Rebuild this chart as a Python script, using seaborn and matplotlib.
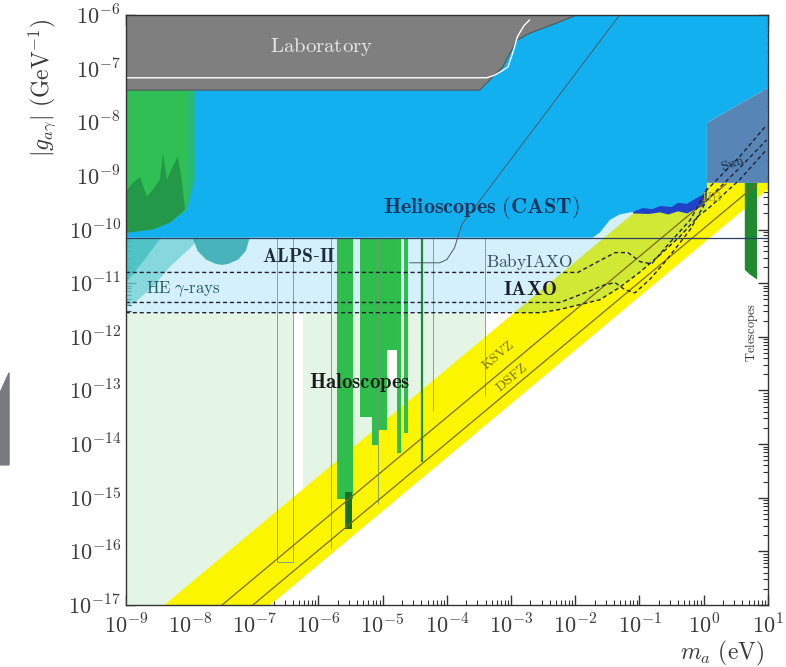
import numpy as np
import seaborn as sns
import matplotlib.pyplot as plt
from matplotlib.patches import Polygon
from matplotlib.ticker import LogLocator, NullFormatter

# every number below is log10(m_a / eV) or log10(|g| / GeV^-1)

# laboratory (gray) and ALPS-I line inside it
lab_logm = [-9, -1.98, -2.29, -2.71, -2.91, -3.13, -3.33, -3.49, -9]
lab_logg = [-6, -6, -6.15, -6.34, -6.47, -6.97, -7.21, -7.40, -7.40]
alps1_logm = [-9, -3.38, -3.27, -3.15, -3.05, -3.0, -2.96, -2.90, -2.80, -2.71]
alps1_logg = [-7.17, -7.17, -7.13, -7.05, -6.97, -6.80, -6.65, -6.40, -6.20, -6.09]

# helioscope (CAST) lower boundary
cast_logm = [-9, -1.73, -1.62, -1.46, -1.31, -1.10, -0.68, -0.26, -0.01, 0.05]
cast_logg = [-10.15, -10.15, -10.06, -9.82, -9.72, -9.67, -9.63, -9.60, -9.45, -9.32]
cast_top_logm = [0.05, 1.0, 1.0, -9]
cast_top_logg = [-8.01, -7.36, -6.0, -6.0]
noise_logm = [-1.10, -0.95, -0.80, -0.68, -0.50, -0.40, -0.26, -0.12, -0.01, 0.05,
              0.05, -0.01, -0.12, -0.26, -0.40, -0.55, -0.68, -0.85, -1.10]
noise_logg = [-9.67, -9.60, -9.62, -9.56, -9.58, -9.50, -9.52, -9.42, -9.35, -9.20,
              -9.40, -9.56, -9.62, -9.70, -9.66, -9.72, -9.68, -9.71, -9.70]

# Sun
sun_logm = [0.05, 1.0, 1.0, 0.05]
sun_logg = [-8.01, -7.36, -9.13, -9.13]

# low-mass green region with spiky dark part
lowg_logm = [-9, -7.93, -7.93, -8.05, -8.31, -8.58, -9]
lowg_logg = [-7.40, -7.40, -9.07, -9.63, -9.87, -10.0, -10.06]
spike_logm = [-9, -8.98, -8.89, -8.78, -8.67, -8.58, -8.47, -8.42, -8.36, -8.27, -8.19, -8.13,
              -8.08, -8.08, -8.31, -8.58, -9]
spike_logg = [-9.5, -9.26, -9.13, -9.02, -9.39, -9.26, -9.07, -8.57, -9.07, -8.83, -8.64, -9.07,
              -9.58, -9.63, -9.87, -10.0, -10.06]

# HE gamma-rays
he_logm = [-9, -7.85, -8.0, -8.31, -8.58, -8.85, -9]
he_logg = [-10.15, -10.15, -10.35, -10.69, -11.07, -11.35, -11.45]
he2_logm = [-9, -8.45, -8.7, -9]
he2_logg = [-10.15, -10.15, -10.55, -11.0]
blob_logm = [-7.96, -7.88, -7.75, -7.60, -7.50, -7.40, -7.25, -7.13, -7.07]
blob_logg = [-10.15, -10.40, -10.56, -10.64, -10.66, -10.64, -10.56, -10.40, -10.15]

# future haloscopes (pale green, ends under the lower edge of the band) and gaps
pale_logm = [-9, -3.41, -3.41, -6.75, -9]
pale_logg = [-11.55, -11.55, -13.66, -17, -17]
gap_logm = [-6.40, -6.24, -6.24, -6.40]
gap_logg = [-11.55, -11.55, -15.5, -15.5]
gap2_logm = [-4.93, -4.78, -4.78, -4.93]
gap2_logg = [-12.24, -12.24, -12.90, -12.90]
outline_logm = [-6.65, -6.40, -5.81, -5.07, -4.78, -4.22, -3.41]
outline_bottom = [-16.20, -16.20, -15.96, -15.12, -14.16, -13.39, -13.11]

# haloscope exclusions
bar_lo = [-5.71, -5.36, -5.17, -5.07, -4.93, -4.78, -4.67]
bar_hi = [-5.46, -5.17, -5.07, -4.93, -4.78, -4.72, -4.61]
bar_bottom = [-15.03, -13.49, -14.01, -13.73, -12.24, -14.16, -13.79]
admx_logm = [-5.59, -5.48]
admx_logg = [-14.90, -15.59]
thin_logm = -4.39
thin_bottom = -14.34

# QCD axion band and model lines
band_logm = [-8.4, -0.53, 1.0, 1.0, -6.75]
band_logg = [-17, -9.13, -9.13, -9.25, -17]
ksvz_logm = [-7.5, 0.35]
ksvz_logg = [-17, -9.15]
dfsz_logm = [-7.02, 0.83]
dfsz_logg = [-17, -9.15]

# telescopes
tel_logm = [0.64, 0.83, 0.83, 0.72, 0.64]
tel_logg = [-9.13, -9.13, -10.93, -10.84, -10.75]

# future helioscopes / LSW curves
baby_logm = [-9, -1.96, -1.65, -1.38, -1.18, -0.99, -0.81, -0.60, -0.21, 0.05, 0.56, 0.98]
baby_logg = [-10.80, -10.80, -10.60, -10.43, -10.43, -10.60, -10.64, -10.34, -9.82, -9.26, -8.64, -8.05]
iaxo_logm = [-9, -2.24, -1.85, -1.54, -1.38, -1.23, -1.07, -0.84, -0.60, -0.21, 0.05, 0.56, 0.98]
iaxo_logg = [-11.36, -11.36, -11.18, -11.03, -10.99, -11.12, -11.18, -10.93, -10.60, -10.0, -9.45, -8.85, -8.33]
iaxop_logm = [-9, -2.55, -2.24, -1.93, -1.62, -1.31, -0.99, -0.68, -0.37, -0.06, 0.05, 0.56, 0.98]
iaxop_logg = [-11.55, -11.55, -11.49, -11.40, -11.31, -11.08, -10.79, -10.47, -10.13, -9.72, -9.63, -9.07, -8.51]
alps2_logm = [-4.58, -4.11, -4.0, -3.88, -3.77, -1.31]
alps2_logg = [-10.62, -10.62, -10.56, -10.34, -9.91, -6.0]

sns.set_theme(style="ticks")
plt.rcParams['font.family'] = ['DejaVu Serif']
plt.rcParams['mathtext.fontset'] = 'cm'

fig = plt.figure(figsize=(7.86, 6.67), dpi=100)
ax = fig.add_axes([0.160, 0.093, 0.817, 0.8845])
ax.set_xscale('log')
ax.set_yscale('log')


def area(lm, lg, color, z, alpha=1.0, ec='none', lw=0):
    ax.fill(10.0 ** np.array(lm), 10.0 ** np.array(lg), color=color, alpha=alpha,
            ec=ec, lw=lw, zorder=z)


def curve(lm, lg, color, lw, ls='-', z=8):
    sns.lineplot(x=10.0 ** np.array(lm), y=10.0 ** np.array(lg), ax=ax, sort=False,
                 estimator=None, color=color, lw=lw, linestyle=ls, zorder=z)


area(pale_logm, pale_logg, '#e5f5e5', 1)
area(gap_logm, gap_logg, 'white', 1.1)
area(gap2_logm, gap2_logg, 'white', 1.1)
area(band_logm, band_logg, '#fbf500', 2)

# pale cyan IAXO region (turns the band lime)
area(cast_logm + iaxop_logm[::-1][2:], cast_logg + iaxop_logg[::-1][2:], '#3ec0f0', 3, alpha=0.22)

area(he_logm, he_logg, '#6cd0d2', 4, alpha=0.75)
area(he2_logm, he2_logg, '#3fbcbf', 4.1, alpha=0.75)
area(blob_logm, blob_logg, '#2fa9b0', 4.2, alpha=0.85)

for lo, hi, bot in zip(bar_lo, bar_hi, bar_bottom):
    area([lo, hi, hi, lo], [-10.15, -10.15, bot, bot], '#2fbd4b', 5)
area([admx_logm[0], admx_logm[1], admx_logm[1], admx_logm[0]],
     [admx_logg[0], admx_logg[0], admx_logg[1], admx_logg[1]], '#17702a', 5.2)
ax.vlines(10.0 ** thin_logm, 10.0 ** thin_bottom, 10.0 ** -10.15, color='#1f8a35', lw=1.6, zorder=5.3)
ax.vlines(10.0 ** np.array(outline_logm), 10.0 ** np.array(outline_bottom), 10.0 ** -10.15,
          color='#6f9a7a', lw=0.6, zorder=5.1)
ax.hlines(10.0 ** outline_bottom[0], 10.0 ** outline_logm[0], 10.0 ** outline_logm[1],
          color='#6f9a7a', lw=0.6, zorder=5.1)

area(tel_logm, tel_logg, '#1f8a30', 5)

area(cast_logm + cast_top_logm, cast_logg + cast_top_logg, '#13b0ef', 6)
area(noise_logm, noise_logg, '#1f42c8', 6.1)
area(sun_logm, sun_logg, '#5786b6', 6.2)

area(lowg_logm, lowg_logg, '#2fbf55', 6.5)
area([-8.05, -7.93, -7.93, -8.05], [-7.40, -7.40, -9.07, -9.63], '#27b58a', 6.6, alpha=0.6)
area(spike_logm, spike_logg, '#1f8f45', 6.7, alpha=0.8)

area(lab_logm, lab_logg, '#7f7f7f', 7, ec='#555555', lw=0.8)
curve(alps1_logm, alps1_logg, 'white', 1.0, z=7.5)

curve(ksvz_logm, ksvz_logg, '#7a6a10', 0.9, z=8)
curve(dfsz_logm, dfsz_logg, '#7a6a10', 0.9, z=8)
ax.axhline(10.0 ** -10.15, color='#2c3d66', lw=0.9, zorder=8)
curve(alps2_logm, alps2_logg, '#4a5a6a', 0.7, z=8)
curve(baby_logm, baby_logg, '#222233', 1.0, ls=(0, (3, 2)), z=9)
curve(iaxo_logm, iaxo_logg, '#222233', 1.0, ls=(0, (3, 2)), z=9)
curve(iaxop_logm, iaxop_logg, '#222233', 1.0, ls=(0, (3, 2)), z=9)

# labels
def label(lm, lg, s, size, color, rot=0):
    ax.text(10.0 ** lm, 10.0 ** lg, s, ha='center', va='center', fontsize=size,
            color=color, rotation=rot, rotation_mode='anchor', zorder=12)


label(-5.95, -6.60, r'$\mathrm{Laboratory}$', 15, '#e6e6e6')
label(-3.47, -9.58, r'$\mathbf{Helioscopes\ (CAST)}$', 16, '#16365e')
label(-6.31, -10.51, r'$\mathbf{ALPS}$-$\mathbf{II}$', 14, '#1c2a3a')
label(-2.71, -10.60, r'$\mathrm{BabyIAXO}$', 12.5, '#3a4a5e')
label(-2.71, -11.12, r'$\mathbf{IAXO}$', 14.5, '#1a1a2a')
label(-8.11, -11.12, r'$\mathrm{HE}\ \gamma\mathrm{\text{-}rays}$', 12, '#1f5a62')
label(-5.36, -12.85, r'$\mathbf{Haloscopes}$', 15, '#1a1a1a')
label(-3.21, -12.34, r'$\mathrm{KSVZ}$', 10, '#7a7010', rot=40)
label(-2.99, -12.76, r'$\mathrm{DSFZ}$', 10, '#7a7010', rot=40)
label(0.13, -9.39, r'$\mathrm{HB}$', 10, '#b0a820')
label(0.45, -8.76, r'$\mathrm{Sun}$', 10, '#1c2c44', rot=20)
label(0.75, -11.92, r'$\mathrm{Telescopes}$', 9, '#333333', rot=90)

# axes
exps_x = np.arange(-9, 2)
exps_y = np.arange(-17, -5)
ax.set_xlim(1e-9, 1e1)
ax.set_ylim(1e-17, 1e-6)
ax.set_xticks(10.0 ** exps_x)
ax.set_xticklabels([f'$10^{{{e}}}$' for e in exps_x])
ax.set_yticks(10.0 ** exps_y)
ax.set_yticklabels([f'$10^{{{e}}}$' for e in exps_y])
for axis in (ax.xaxis, ax.yaxis):
    axis.set_minor_locator(LogLocator(base=10, subs=np.arange(2, 10), numticks=100))
    axis.set_minor_formatter(NullFormatter())
ax.tick_params(which='both', direction='in', top=True, right=True, colors='#333333',
               labelcolor='#3a3a3a', labelsize=16)
ax.tick_params(which='major', length=7, width=1.0)
ax.tick_params(which='minor', length=3.5, width=0.8)
ax.tick_params(axis='x', pad=7)
for sp in ax.spines.values():
    sp.set_color('#333333')
    sp.set_linewidth(1.0)
    sp.set_zorder(20)

ax.set_ylabel(r'$|g_{a\gamma}|\ (\mathrm{GeV}^{-1})$', fontsize=17, color='#3a3a3a')
ax.yaxis.set_label_coords(-0.106, 0.876)
ax.set_xlabel(r'$m_a\ (\mathrm{eV})$', fontsize=17, color='#3a3a3a')
ax.xaxis.set_label_coords(0.928, -0.058)

# gray sliver at the left edge of the picture
fig.add_artist(Polygon([[0, 0.411], [0.0115, 0.441], [0.0115, 0.303], [0, 0.303]],
                       closed=True, transform=fig.transFigure, color='#787a82'))

fig.savefig('out.png', dpi=100)
